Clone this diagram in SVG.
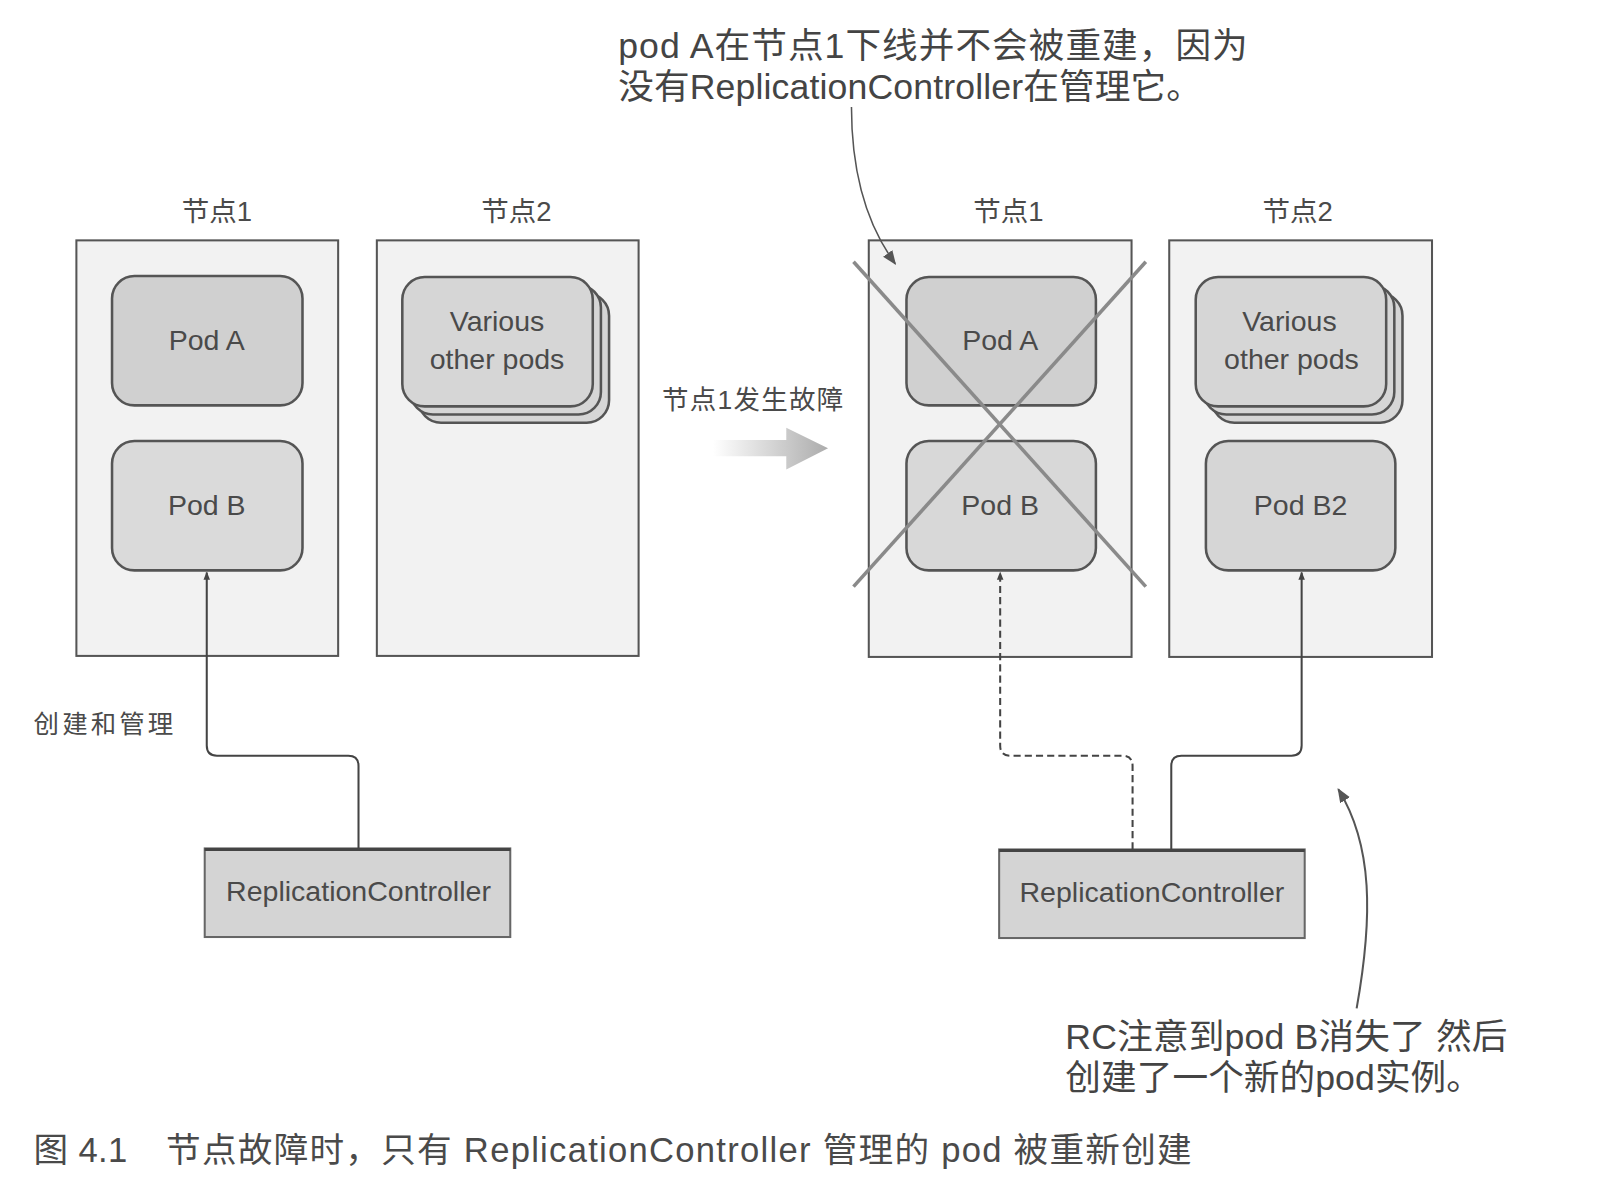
<svg xmlns="http://www.w3.org/2000/svg" width="1598" height="1198" viewBox="0 0 1598 1198">
<defs>
<style>
.t{font-family:"Liberation Sans","Noto Sans CJK SC",sans-serif;fill:#4a4a4a}
.node{fill:#f2f2f2;stroke:#555;stroke-width:2}
.pod{fill:#d6d6d6;stroke:#555;stroke-width:2.5}
.rc{fill:#d4d4d4;stroke:#666;stroke-width:2}
.lbl{font-size:27px;text-anchor:middle}
.pt{font-size:28px;text-anchor:middle}
.ann{font-size:35px;fill:#444}
.con{fill:none;stroke:#444;stroke-width:2}
.x{stroke:#8a8a8a;stroke-width:3.5}
</style>
<marker id="ah" viewBox="0 0 10 10" refX="9" refY="5" markerWidth="8" markerHeight="8" markerUnits="userSpaceOnUse" orient="auto">
<path d="M0,1 L10,5 L0,9 z" fill="#444"/>
</marker>
<marker id="ah2" viewBox="0 0 10 10" refX="9" refY="5" markerWidth="14" markerHeight="14" markerUnits="userSpaceOnUse" orient="auto">
<path d="M0,1 L10,5 L0,9 z" fill="#555"/>
</marker>
<linearGradient id="fade" x1="0" y1="0" x2="1" y2="0">
<stop offset="0" stop-color="#ffffff"/>
<stop offset="1" stop-color="#acacac"/>
</linearGradient>
</defs>
<rect width="1598" height="1198" fill="#ffffff"/>
<g transform="scale(1.0185)">

<!-- left side -->
<g id="left-node1">
<text class="t lbl" x="213" y="217">节点1</text>
<rect class="node" x="75" y="236" width="257" height="408"/>
</g>
<g id="left-podA">
<rect class="pod" x="110" y="271" width="187" height="127" rx="22" style="fill:#d0d0d0"/>
<text class="t pt" x="203" y="344">Pod A</text>
</g>
<g id="left-podB">
<rect class="pod" x="110" y="433" width="187" height="127" rx="22" style="fill:#dadada"/>
<text class="t pt" x="203" y="506">Pod B</text>
</g>
<g id="left-node2">
<text class="t lbl" x="507" y="217">节点2</text>
<rect class="node" x="370" y="236" width="257" height="408"/>
</g>
<g id="left-various">
<rect class="pod" x="411" y="288" width="187" height="127" rx="22"/>
<rect class="pod" x="403" y="280" width="187" height="127" rx="22"/>
<rect class="pod" x="395" y="272" width="187" height="127" rx="22"/>
<text class="t pt" x="488" y="325">Various</text>
<text class="t pt" x="488" y="362">other pods</text>
</g>
<g id="left-rc">
<rect class="rc" x="201" y="833" width="300" height="87"/>
<line x1="201" y1="834" x2="501" y2="834" stroke="#444" stroke-width="3"/>
<text class="t" x="222" y="885" font-size="27" textLength="260" lengthAdjust="spacingAndGlyphs">ReplicationController</text>
</g>
<text class="t" x="33" y="720" font-size="25" textLength="137" lengthAdjust="spacing">创建和管理</text>

<!-- middle -->
<g id="transition">
<text class="t" x="650" y="402" font-size="26" textLength="178" lengthAdjust="spacing">节点1发生故障</text>
<path d="M700,432 H772 V420 L813,440 L772,461 V448 H700 z" fill="url(#fade)"/>
</g>

<!-- right side -->
<g id="right-node1">
<text class="t lbl" x="990" y="217">节点1</text>
<rect class="node" x="853" y="236" width="258" height="409"/>
</g>
<g id="right-podA">
<rect class="pod" x="890" y="272" width="186" height="126" rx="22" style="fill:#d0d0d0"/>
<text class="t pt" x="982" y="344">Pod A</text>
</g>
<g id="right-podB">
<rect class="pod" x="890" y="433" width="186" height="127" rx="22" style="fill:#d8d8d8"/>
<text class="t pt" x="982" y="506">Pod B</text>
</g>
<g id="cross">
<line class="x" x1="838" y1="257" x2="1125" y2="576"/>
<line class="x" x1="1125" y1="257" x2="838" y2="576"/>
</g>
<g id="right-node2">
<text class="t lbl" x="1274" y="217">节点2</text>
<rect class="node" x="1148" y="236" width="258" height="409"/>
</g>
<g id="right-various">
<rect class="pod" x="1190" y="288" width="187" height="127" rx="22"/>
<rect class="pod" x="1182" y="280" width="187" height="127" rx="22"/>
<rect class="pod" x="1174" y="272" width="187" height="127" rx="22"/>
<text class="t pt" x="1266" y="325">Various</text>
<text class="t pt" x="1268" y="362">other pods</text>
</g>
<g id="right-podB2">
<rect class="pod" x="1184" y="433" width="186" height="127" rx="22"/>
<text class="t pt" x="1277" y="506">Pod B2</text>
</g>
<g id="right-rc">
<rect class="rc" x="981" y="834" width="300" height="87"/>
<line x1="981" y1="835" x2="1281" y2="835" stroke="#444" stroke-width="3"/>
<text class="t" x="1001" y="886" font-size="27" textLength="260" lengthAdjust="spacingAndGlyphs">ReplicationController</text>
</g>

<!-- connectors -->
<g id="connectors">
<path class="con" d="M352,833 V752 Q352,742 342,742 H213 Q203,742 203,732 V562" marker-end="url(#ah)"/>
<path class="con" d="M1112,834 V752 Q1112,742 1102,742 H992 Q982,742 982,732 V562" stroke-dasharray="7,4" marker-end="url(#ah)"/>
<path class="con" d="M1150,834 V752 Q1150,742 1160,742 H1268 Q1278,742 1278,732 V562" marker-end="url(#ah)"/>
<path fill="none" stroke="#555" stroke-width="1.5" d="M836,105 C836,170 852,222 879,259" marker-end="url(#ah2)"/>
<path fill="none" stroke="#555" stroke-width="2" d="M1332,990 C1348,900 1348,830 1314,775" marker-end="url(#ah2)"/>
</g>

<!-- annotations -->
<text class="t ann" x="607" y="57" textLength="618" lengthAdjust="spacing">pod A在节点1下线并不会被重建，因为</text>
<text class="t ann" x="607" y="97" textLength="573" lengthAdjust="spacing">没有ReplicationController在管理它。</text>
<text class="t ann" x="1046" y="1030" textLength="434" lengthAdjust="spacing">RC注意到pod B消失了 然后</text>
<text class="t ann" x="1046" y="1070" textLength="409" lengthAdjust="spacing">创建了一个新的pod实例。</text>

<g id="caption">
<text class="t" x="33" y="1141" font-size="34" fill="#333" textLength="92" lengthAdjust="spacing">图 4.1</text>
<text class="t" x="163" y="1141" font-size="34" fill="#333" textLength="1007" lengthAdjust="spacing">节点故障时，只有 ReplicationController 管理的 pod 被重新创建</text>
</g>
</g>
</svg>
